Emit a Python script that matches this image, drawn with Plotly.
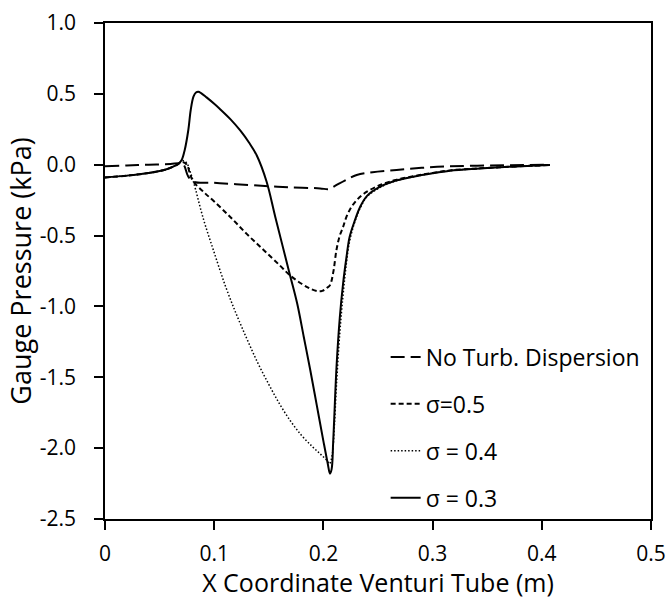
import plotly.graph_objects as go

# ---- data ----
x_noturb = [0, 0.02, 0.04, 0.06, 0.068, 0.072, 0.076, 0.081, 0.10, 0.12, 0.1465, 0.17, 0.197,
            0.205, 0.2106, 0.22, 0.2305, 0.245, 0.267, 0.29, 0.313, 0.34, 0.37, 0.4075]
y_noturb = [-0.01, -0.005, 0.0, 0.005, 0.01, 0.0, -0.08, -0.12, -0.128, -0.137, -0.15, -0.16, -0.167,
            -0.172, -0.15, -0.11, -0.073, -0.053, -0.037, -0.022, -0.012, -0.007, -0.003, 0.0]

x_s05 = [0, 0.02, 0.04, 0.055, 0.062, 0.067, 0.071, 0.075, 0.078, 0.081, 0.090, 0.10, 0.1145, 0.13,
         0.145, 0.16, 0.169, 0.18, 0.188, 0.195, 0.199, 0.203, 0.206, 0.209, 0.212, 0.215, 0.218,
         0.221, 0.2255, 0.2305, 0.237, 0.25, 0.265, 0.282, 0.30, 0.316, 0.34, 0.37, 0.39, 0.4075]
y_s05 = [-0.09, -0.077, -0.058, -0.035, -0.015, 0.005, 0.02, 0.0, -0.07, -0.12, -0.19, -0.26, -0.367, -0.49,
         -0.60, -0.71, -0.778, -0.84, -0.875, -0.893, -0.89, -0.87, -0.85, -0.76, -0.60, -0.50, -0.44,
         -0.37, -0.30, -0.25, -0.205, -0.15, -0.11, -0.082, -0.058, -0.040, -0.027, -0.015, -0.008, -0.002]

x_s04 = [0, 0.02, 0.04, 0.055, 0.062, 0.067, 0.071, 0.075, 0.078, 0.081, 0.09, 0.10, 0.11, 0.12,
         0.13, 0.14, 0.15, 0.16, 0.17, 0.18, 0.19, 0.197, 0.203, 0.2055,
         0.208, 0.210, 0.212, 0.215, 0.218, 0.221, 0.224, 0.2285, 0.2335, 0.240, 0.252, 0.265,
         0.282, 0.30, 0.316, 0.34, 0.37, 0.39, 0.4075]
y_s04 = [-0.09, -0.077, -0.058, -0.035, -0.015, 0.005, 0.03, 0.01, -0.05, -0.12, -0.38, -0.62, -0.85, -1.05,
         -1.23, -1.40, -1.55, -1.69, -1.81, -1.91, -1.99, -2.04, -2.085, -2.11,
         -2.05, -1.85, -1.55, -1.19, -0.92, -0.70, -0.54, -0.41, -0.31, -0.225, -0.16, -0.117,
         -0.086, -0.06, -0.042, -0.028, -0.015, -0.008, -0.002]

x_s03 = [0, 0.02, 0.04, 0.055, 0.062, 0.067, 0.0702, 0.073, 0.0763, 0.0785, 0.081, 0.0833, 0.0855,
         0.088, 0.093, 0.100, 0.105, 0.115, 0.124, 0.132, 0.139, 0.148, 0.156, 0.169, 0.176, 0.182,
         0.188, 0.194, 0.200, 0.204, 0.206, 0.2075, 0.209, 0.212, 0.215, 0.218, 0.221, 0.224, 0.2285,
         0.2335, 0.240, 0.252, 0.265, 0.282, 0.30, 0.316, 0.34, 0.37, 0.39, 0.4075]
y_s03 = [-0.09, -0.077, -0.058, -0.035, -0.015, 0.005, 0.033, 0.104, 0.245, 0.386, 0.48, 0.51, 0.515,
         0.505, 0.475, 0.43, 0.395, 0.32, 0.24, 0.155, 0.065, -0.12, -0.37, -0.767, -0.98, -1.214,
         -1.45, -1.70, -1.95, -2.11, -2.18, -2.15, -1.95, -1.43, -1.08, -0.84, -0.66, -0.51, -0.40,
         -0.30, -0.22, -0.155, -0.115, -0.085, -0.06, -0.042, -0.028, -0.015, -0.008, -0.002]

series_names = ["No Turb. Dispersion", "σ=0.5", "σ = 0.4", "σ = 0.3"]

FONT = "Open Sans"
fig = go.Figure()
traces = [
    (x_noturb, y_noturb, series_names[0], dict(color="black", width=2, dash="14px,6px")),
    (x_s05, y_s05, series_names[1], dict(color="black", width=2, dash="5px,3px")),
    (x_s04, y_s04, series_names[2], dict(color="black", width=1.5, dash="1.5px,2px")),
    (x_s03, y_s03, series_names[3], dict(color="black", width=2)),
]
for i, (xs, ys, nm, ln) in enumerate(traces):
    fig.add_trace(go.Scatter(x=xs, y=ys, name=nm, mode="lines", line=ln,
                             line_shape="spline", legendgroup=f"g{i}"))

axis_common = dict(showline=True, linecolor="black", linewidth=1.5, mirror=True,
                   ticks="outside", ticklen=9, tickwidth=1.5, tickcolor="black",
                   showgrid=False, zeroline=False, automargin=False,
                   tickfont=dict(family=FONT, size=21, color="black"))
fig.update_xaxes(range=[0, 0.5], tickvals=[0, 0.1, 0.2, 0.3, 0.4, 0.5],
                 ticktext=["0", "0.1", "0.2", "0.3", "0.4", "0.5"],
                 ticklabelstandoff=6,
                 title=dict(text="X Coordinate Venturi Tube (m)", standoff=20,
                            font=dict(family=FONT, size=25, color="black")),
                 **axis_common)
fig.update_yaxes(range=[-2.5, 1.0], tickvals=[-2.5, -2, -1.5, -1, -0.5, 0, 0.5, 1.0],
                 ticktext=["-2.5", "-2.0", "-1.5", "-1.0", "-0.5", "0.0", "0.5", "1.0"],
                 ticklabelstandoff=14,
                 title=dict(text="Gauge Pressure (kPa)", standoff=0,
                            font=dict(family=FONT, size=27, color="black")),
                 **axis_common)

fig.update_layout(
    width=670, height=599,
    margin=dict(l=105, r=19, t=23, b=80),
    paper_bgcolor="white", plot_bgcolor="white",
    legend=dict(x=0.514, y=0.37, xanchor="left", yanchor="top",
                font=dict(family=FONT, size=23, color="black"),
                bgcolor="rgba(0,0,0,0)", tracegroupgap=14, itemwidth=30),
)
fig.write_html("out.html")
